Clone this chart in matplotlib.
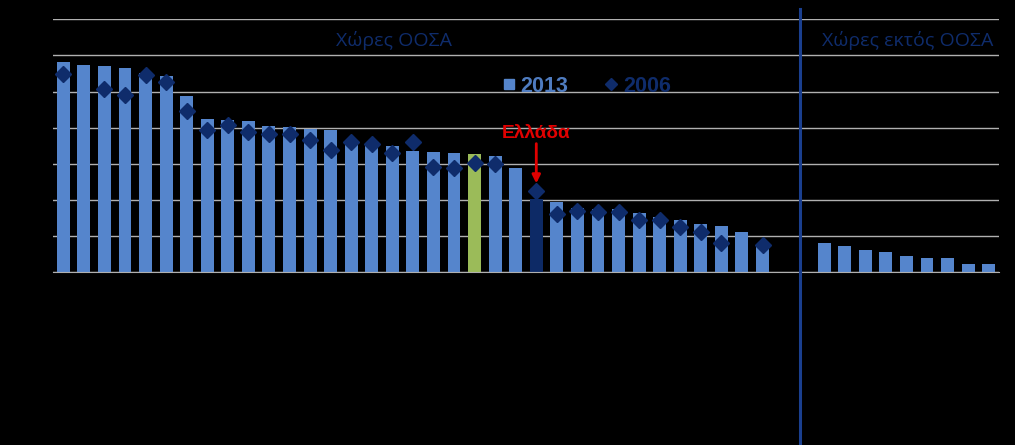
import numpy as np
import matplotlib
matplotlib.use("Agg")
import matplotlib.pyplot as plt
from matplotlib.lines import Line2D

nan = np.nan
# OECD countries (35 incl. OECD average) and non-OECD countries
oecd_2013 = [58.3, 57.3, 57.0, 56.4, 55.2, 54.4, 48.8, 42.4, 42.2, 41.9, 40.6, 40.1,
             39.6, 39.3, 35.9, 35.3, 35.0, 33.6, 33.3, 33.0, 32.8, 32.2, 28.8, 20.2,
             19.4, 17.7, 17.5, 17.4, 16.4, 15.3, 14.5, 13.4, 12.8, 11.2, 7.7]
oecd_2006 = [54.9, nan, 50.6, 49.0, 54.5, 52.6, 44.6, 39.4, 40.7, 38.9, 38.2, 38.2,
             36.5, 33.8, 36.1, 35.4, 33.0, 36.0, 29.0, 28.9, 30.3, 30.1, nan, 22.4,
             16.0, 17.0, 16.8, 16.6, 14.4, 14.4, 12.4, 11.1, 8.2, nan, 7.6]
nonoecd_2013 = [8.2, 7.3, 6.1, 5.5, 4.5, 3.9, 3.9, 2.4, 2.2]
oecd_avg_index = 20
greece_index = 23
gap_slots = 2

series_labels = ["2013", "2006"]
group_labels = ["Χώρες ΟΟΣΑ", "Χώρες εκτός ΟΟΣΑ"]
greece_label = "Ελλάδα"

BAR = "#5585cc"
GREEN = "#9bbb59"
DARK = "#0d2a66"
NAVY = "#0f2c6b"
RED = "#e00000"

n_o = len(oecd_2013)
x_o = np.arange(n_o)
x_n = np.arange(len(nonoecd_2013)) + n_o + gap_slots

fig = plt.figure(figsize=(10.15, 4.45), dpi=100, facecolor="black")
ax = fig.add_axes([53/1015, 1-272.3/445, (999-53)/1015, (272.3-19.3)/445])
ax.set_facecolor("black")

colors = [BAR]*n_o
colors[oecd_avg_index] = GREEN
colors[greece_index] = DARK
ax.bar(x_o, oecd_2013, width=0.63, color=colors, zorder=2)
ax.bar(x_n, nonoecd_2013, width=0.63, color=BAR, zorder=2)
ax.plot(x_o, oecd_2006, linestyle="none", marker="D", markersize=7.8,
        color=NAVY, zorder=3)

ax.set_xlim(-0.5, x_n[-1] + 0.5)
ax.set_ylim(0, 70)
ax.set_yticks(np.arange(0, 71, 10))
ax.yaxis.grid(True, color="#b0b0b0", linewidth=1)
ax.set_axisbelow(True)
ax.tick_params(left=False, bottom=False, labelleft=False, labelbottom=False)
for s in ["top", "right", "left"]:
    ax.spines[s].set_visible(False)
ax.spines["bottom"].set_color("#b0b0b0")

# separator line between groups
sep_x = n_o + 0.8
ax.plot([sep_x, sep_x], [-1.05, 1.04], color="#1a3f8f", linewidth=2.2,
        transform=ax.get_xaxis_transform(), clip_on=False, zorder=4)

# group labels
ax.text(16.1, 64, group_labels[0], color=NAVY, fontsize=14,
        family="Open Sans", ha="center", va="center")
ax.text(41.07, 64, group_labels[1], color=NAVY, fontsize=14,
        family="Open Sans", ha="center", va="center")

# Greece annotation
ax.text(greece_index, 38.3, greece_label, color=RED, fontsize=13.8,
        fontweight="bold", family="Liberation Sans", ha="center", va="center")
ax.annotate("", xy=(greece_index, 24.6), xytext=(greece_index, 35.6),
            arrowprops=dict(arrowstyle="-|>", color=RED, lw=2,
                            mutation_scale=12, shrinkA=0, shrinkB=0))

# legend
handles = [Line2D([], [], linestyle="none", marker="s", markersize=7.5, color=BAR),
           Line2D([], [], linestyle="none", marker="D", markersize=6, color=NAVY)]
leg = ax.legend(handles, series_labels, ncol=2, frameon=False,
                loc="center", bbox_to_anchor=(586/1015, 1-86/445),
                bbox_transform=fig.transFigure,
                prop={"family": "Liberation Sans", "weight": "bold", "size": 15.5},
                handletextpad=0.2, columnspacing=1.65, handlelength=0.7)
leg.get_texts()[0].set_color("#4f7cc0")
leg.get_texts()[1].set_color(NAVY)

fig.savefig("out.png", dpi=100, facecolor="black")
